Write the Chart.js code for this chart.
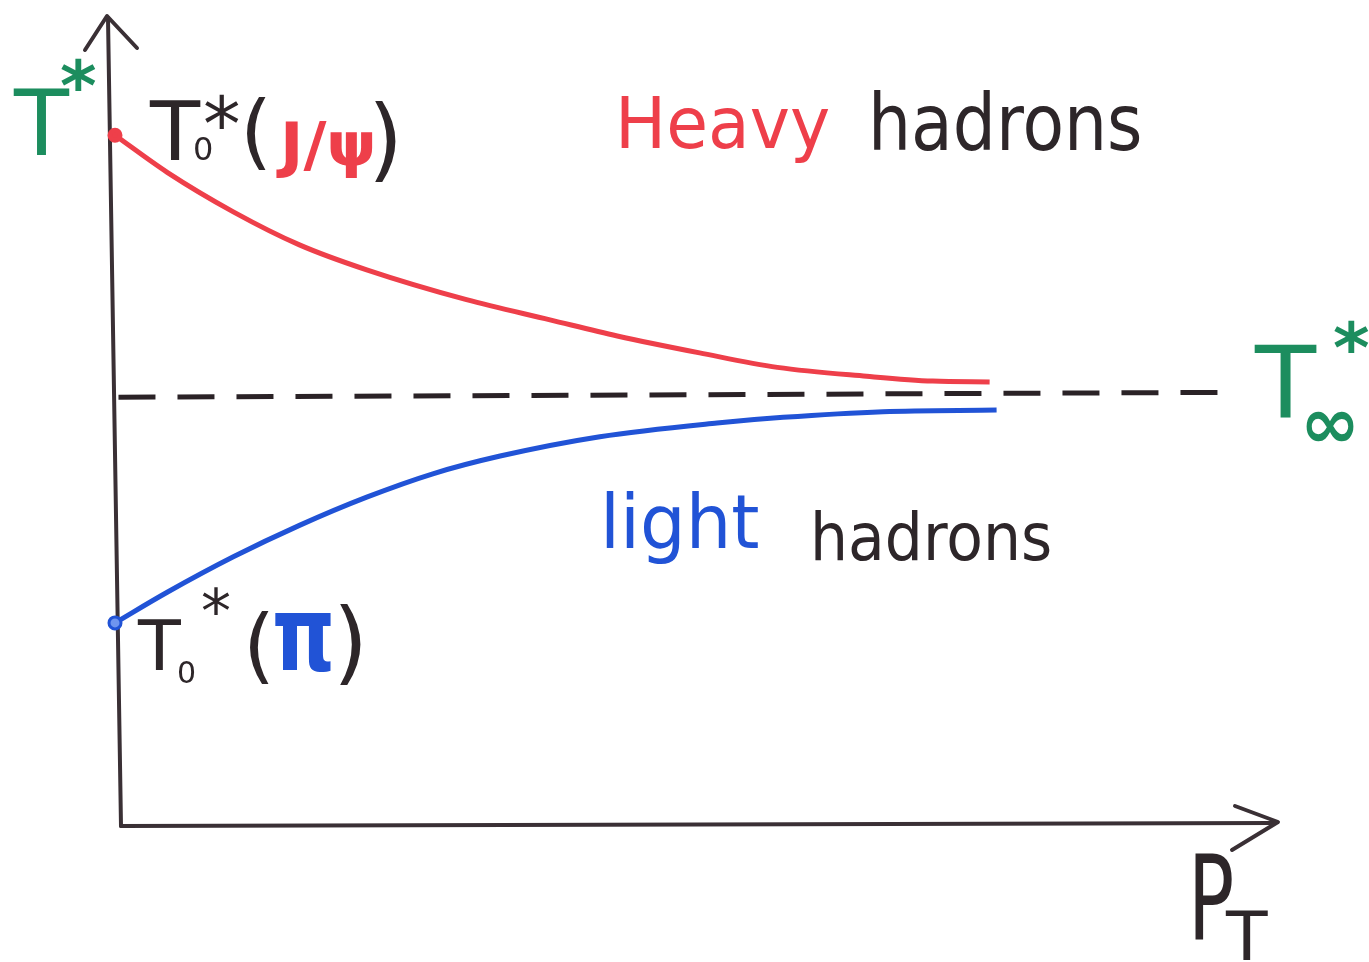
<!DOCTYPE html>
<html>
<head>
<meta charset="utf-8">
<title>T* vs pT</title>
<script src="https://cdn.jsdelivr.net/npm/chart.js@4/dist/chart.umd.min.js"></script>
<style>
  html, body { margin: 0; padding: 0; background: #fff; }
  canvas { display: block; }
</style>
</head>
<body>
<canvas id="sketch" width="1369" height="962"></canvas>
<script>
// curve samples, x = pT (arbitrary units), y = T* (arbitrary units)
var heavyX = [0, 4.5, 10.2, 15.9, 21.7, 30.3, 37.5, 43.3, 50.4, 57.1, 64.8, 70.5, 75.4];
var heavyY = [85.7, 81.1, 76.2, 72.1, 69.0, 65.3, 62.8, 60.8, 58.7, 56.9, 55.8, 55.2, 55.1];

var lightX = [0, 4.5, 10.2, 15.9, 21.7, 27.4, 33.2, 41.8, 51.9, 57.6, 66.2, 76.0];
var lightY = [25.2, 29.0, 33.4, 37.3, 40.8, 43.7, 45.9, 48.3, 50.0, 50.7, 51.4, 51.6];

// asymptotic T*(infinity) level
var limitX = [0.3, 96.1];
var limitY = [53.2, 53.8];

var INK = '#2d2629';
var RED = '#ee3f4a';
var BLUE = '#2153d6';
var GREEN = '#1c8d5e';
var FONT = '"DejaVu Sans", sans-serif';

function toPoints(xs, ys) {
  return xs.map(function (x, i) { return { x: x, y: ys[i] }; });
}

function firstPointOnly(r) {
  return function (ctx) { return ctx.dataIndex === 0 ? r : 0; };
}

// one piece of text, optional stretch
function put(ctx, text, x, y, size, color, opts) {
  opts = opts || {};
  ctx.save();
  ctx.translate(x, y);
  ctx.scale(opts.sx || 1, opts.sy || 1);
  ctx.font = (opts.weight || 'normal') + ' ' + size + 'px ' + FONT;
  ctx.fillStyle = color;
  ctx.textBaseline = 'alphabetic';
  ctx.fillText(text, 0, 0);
  ctx.restore();
}

function arrowHead(ctx, tip, a, b) {
  ctx.beginPath();
  ctx.moveTo(a[0], a[1]);
  ctx.lineTo(tip[0], tip[1]);
  ctx.lineTo(b[0], b[1]);
  ctx.stroke();
}

var axesPlugin = {
  id: 'sketchAxes',
  beforeDatasetsDraw: function (chart) {
    var ctx = chart.ctx;
    var xs = chart.scales.x, ys = chart.scales.y;
    var x0 = xs.getPixelForValue(0), y0 = ys.getPixelForValue(0);
    var xEnd = xs.getPixelForValue(100), yEnd = ys.getPixelForValue(100);
    ctx.save();
    ctx.strokeStyle = '#3a3035';
    ctx.lineWidth = 4;
    ctx.lineCap = 'round';
    ctx.lineJoin = 'round';
    // vertical axis
    ctx.beginPath();
    ctx.moveTo(x0 - 7, yEnd - 2);
    ctx.lineTo(x0 + 6, y0);
    ctx.stroke();
    arrowHead(ctx, [x0 - 8, yEnd - 4], [x0 - 30, yEnd + 30], [x0 + 22, yEnd + 28]);
    // horizontal axis
    ctx.beginPath();
    ctx.moveTo(x0 + 6, y0);
    ctx.lineTo(xEnd, y0 - 3);
    ctx.stroke();
    arrowHead(ctx, [xEnd + 3, y0 - 4], [xEnd - 40, y0 - 20], [xEnd - 43, y0 + 24]);
    ctx.restore();
  },
  afterDraw: function (chart) {
    var ctx = chart.ctx;
    // T* axis title
    put(ctx, 'T', 14, 155, 90, GREEN);
    put(ctx, '*', 60, 110, 70, GREEN, { weight: 'bold' });

    // T0*(J/psi)
    put(ctx, 'T', 150, 160, 82, INK);
    put(ctx, '0', 193, 160, 32, INK);
    put(ctx, '*', 203, 150, 75, INK);
    put(ctx, '(', 240, 159, 82, INK);
    put(ctx, 'J/ψ', 280, 165, 60, RED, { weight: 'bold', sx: 1.05 });
    put(ctx, ')', 368, 170, 90, INK);

    // Heavy hadrons
    put(ctx, 'Heavy', 615, 148, 68, RED, { sy: 1.05 });
    put(ctx, 'hadrons', 868, 150, 68, INK, { sy: 1.15 });

    // T-infinity
    put(ctx, 'T', 1255, 418, 100, GREEN);
    put(ctx, '∞', 1300, 448, 72, GREEN, { weight: 'bold' });
    put(ctx, '*', 1333, 372, 70, GREEN, { weight: 'bold' });

    // light hadrons
    put(ctx, 'light', 600, 548, 72, BLUE, { sy: 1.05 });
    put(ctx, 'hadrons', 810, 560, 60, INK, { sy: 1.1 });

    // T0*(pi)
    put(ctx, 'T', 138, 670, 70, INK);
    put(ctx, '0', 177, 683, 30, INK);
    put(ctx, '*', 201, 632, 60, INK);
    put(ctx, '(', 243, 673, 82, INK);
    put(ctx, 'π', 272, 670, 80, BLUE, { weight: 'bold', sy: 1.3 });
    put(ctx, ')', 333, 673, 90, INK);

    // pT axis title
    put(ctx, 'P', 1188, 940, 118, INK, { sx: 0.65 });
    put(ctx, 'T', 1226, 960, 68, INK);
  }
};

new Chart(document.getElementById('sketch').getContext('2d'), {
  type: 'line',
  data: {
    datasets: [
      {
        label: 'heavy hadrons',
        data: toPoints(heavyX, heavyY),
        borderColor: RED,
        borderWidth: 5,
        cubicInterpolationMode: 'monotone',
        pointRadius: firstPointOnly(5),
        pointBackgroundColor: RED,
        pointBorderColor: RED,
        clip: false
      },
      {
        label: 'light hadrons',
        data: toPoints(lightX, lightY),
        borderColor: BLUE,
        borderWidth: 5,
        cubicInterpolationMode: 'monotone',
        pointRadius: firstPointOnly(6),
        pointBackgroundColor: '#6f95ef',
        pointBorderColor: BLUE,
        pointBorderWidth: 3,
        clip: false
      },
      {
        label: 'T* infinity',
        data: toPoints(limitX, limitY),
        borderColor: '#2a2226',
        borderWidth: 5,
        borderDash: [37, 22],
        pointRadius: 0,
        clip: false
      }
    ]
  },
  options: {
    responsive: false,
    animation: false,
    layout: { padding: { left: 115, right: 94, top: 20, bottom: 136 } },
    scales: {
      x: { type: 'linear', min: 0, max: 100, display: false },
      y: { type: 'linear', min: 0, max: 100, display: false }
    },
    plugins: {
      legend: { display: false },
      tooltip: { enabled: false }
    }
  },
  plugins: [axesPlugin]
});
</script>
</body>
</html>
